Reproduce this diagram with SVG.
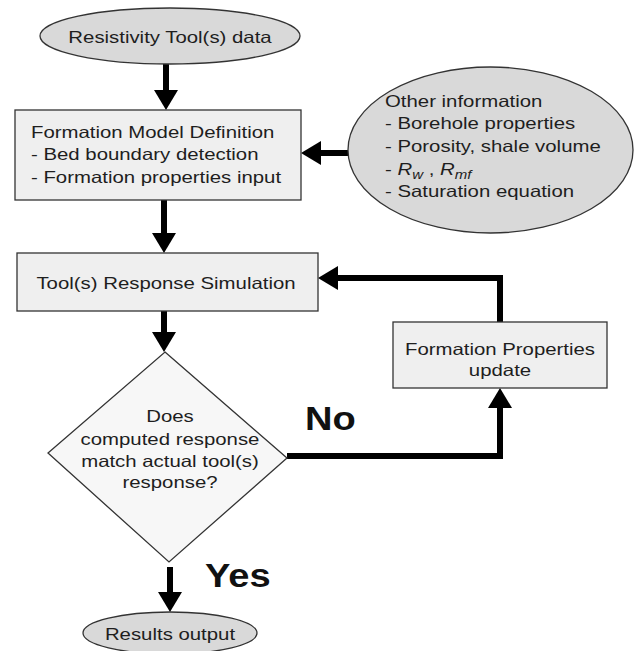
<svg xmlns="http://www.w3.org/2000/svg" width="636" height="651" viewBox="0 0 636 651">
<style>
.shape{stroke:#333;stroke-width:1.3}
.ell{fill:#d9d9d9}
.box{fill:#efefef}
.dia{fill:#f7f7f7}
.t{font-family:"Liberation Sans",Arial,sans-serif;font-size:16.3px;fill:#1e1e1e}
.lbl{font-family:"Liberation Sans",Arial,sans-serif;font-size:34px;font-weight:bold;fill:#111}
.c{text-anchor:middle}
.conn{fill:none;stroke:#000;stroke-width:6}
</style>
<defs>
<marker id="ah" viewBox="0 0 20 24" refX="10" refY="12" markerWidth="20" markerHeight="24" markerUnits="userSpaceOnUse" orient="auto">
<path d="M0,0 L20,12 L0,24 z" fill="#000"/>
</marker>
</defs>
<rect width="636" height="651" fill="#fff"/>

<g id="connectors">
<path class="conn" d="M166,64 L166,100" marker-end="url(#ah)"/>
<path class="conn" d="M348,153 L311,153" marker-end="url(#ah)"/>
<path class="conn" d="M164,200 L164,243" marker-end="url(#ah)"/>
<path class="conn" d="M164,311 L164,342" marker-end="url(#ah)"/>
<path class="conn" d="M287,456 L500,456 L500,398" marker-end="url(#ah)"/>
<path class="conn" d="M500,322 L500,278 L328,278" marker-end="url(#ah)"/>
<path class="conn" d="M170,567 L170,602" marker-end="url(#ah)"/>
</g>

<g id="resistivity-data">
<ellipse class="shape ell" cx="170" cy="36" rx="130" ry="28"/>
<text class="t c" transform="matrix(1.25 0 0 1 170 43)">Resistivity Tool(s) data</text>
</g>

<g id="formation-model">
<rect class="shape box" x="15" y="110" width="286" height="90"/>
<text class="t" transform="matrix(1.25 0 0 1 31 138)"><tspan x="0" dy="0">Formation Model Definition</tspan><tspan x="0" dy="22.5">- Bed boundary detection</tspan><tspan x="0" dy="22.5">- Formation properties input</tspan></text>
</g>

<g id="other-information">
<ellipse class="shape ell" cx="490.5" cy="150" rx="142.5" ry="83"/>
<text class="t" transform="matrix(1.25 0 0 1 385 107)"><tspan x="0" dy="0">Other information</tspan><tspan x="0" dy="22.5">- Borehole properties</tspan><tspan x="0" dy="22.5">- Porosity, shale volume</tspan></text>
<text class="t" transform="matrix(1.25 0 0 1 385 175)">- <tspan font-style="italic">R</tspan><tspan font-style="italic" font-size="12" dy="4">w</tspan><tspan dy="-4"> , </tspan><tspan font-style="italic">R</tspan><tspan font-style="italic" font-size="12" dy="4">mf</tspan></text>
<text class="t" transform="matrix(1.25 0 0 1 385 197)">- Saturation equation</text>
</g>

<g id="response-simulation">
<rect class="shape box" x="17" y="253" width="301" height="58"/>
<text class="t c" transform="matrix(1.25 0 0 1 166 289)">Tool(s) Response Simulation</text>
</g>

<g id="properties-update">
<rect class="shape box" x="393" y="322" width="214" height="66"/>
<text class="t c" transform="matrix(1.25 0 0 1 500 355)"><tspan x="0" dy="0">Formation Properties</tspan><tspan x="0" dy="21">update</tspan></text>
</g>

<g id="decision">
<polygon class="shape dia" points="165,352 287,458 169,562 48,453"/>
<text class="t c" transform="matrix(1.25 0 0 1 170 422)"><tspan x="0" dy="0">Does</tspan><tspan x="0" dy="23">computed response</tspan><tspan x="0" dy="22">match actual tool(s)</tspan><tspan x="0" dy="21">response?</tspan></text>
</g>

<g id="results-output">
<ellipse class="shape ell" cx="170" cy="633" rx="87" ry="21"/>
<text class="t c" font-size="16" transform="matrix(1.25 0 0 1 170 640)">Results output</text>
</g>

<g id="labels">
<text class="lbl" transform="matrix(1.12 0 0 1 305 430)">No</text>
<text class="lbl" transform="matrix(1.12 0 0 1 205 587)">Yes</text>
</g>
</svg>
